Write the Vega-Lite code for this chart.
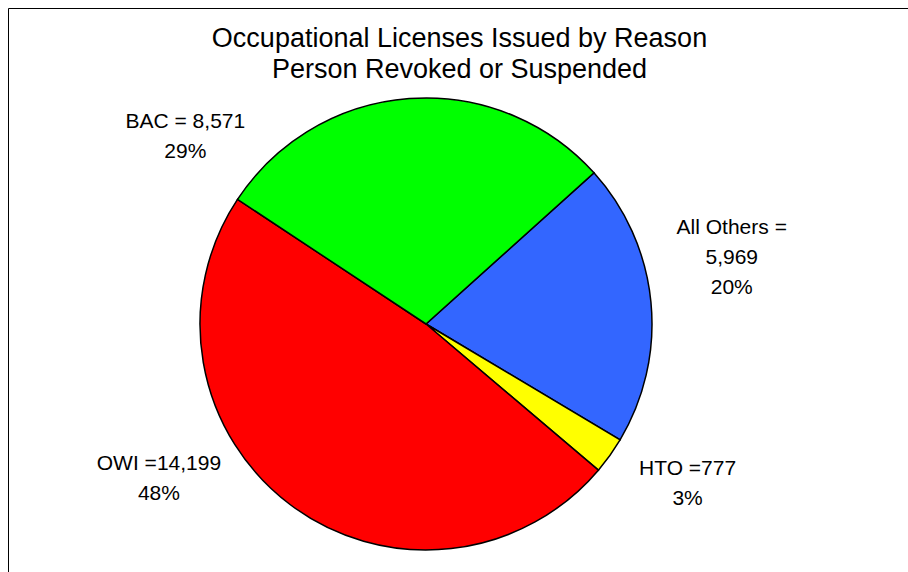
{
  "$schema": "https://vega.github.io/schema/vega-lite/v6.json",
  "width": 901,
  "height": 565,
  "autosize": {"type": "none"},
  "padding": {"left": 8, "top": 8, "right": 0, "bottom": 0},
  "background": "white",
  "view": {"stroke": "#000", "strokeWidth": 1},
  "config": {"view": {"stroke": "#000", "strokeWidth": 1}, "font": "Liberation Sans"},
  "title": {
    "text": ["Occupational Licenses Issued by Reason", "Person Revoked or Suspended"],
    "fontSize": 27,
    "fontWeight": "normal",
    "font": "Liberation Sans",
    "color": "#000",
    "lineHeight": 31,
    "anchor": "middle",
    "frame": "group",
    "offset": -107,
    "dx": 1
  },
  "data": {
    "values": [
      {"reason": "All Others", "count": 5969, "ord": 1, "label": ["All Others =", "5,969", "20%"]},
      {"reason": "HTO", "count": 777, "ord": 2, "label": ["HTO =777", "3%"]},
      {"reason": "OWI", "count": 14199, "ord": 3, "label": ["OWI =14,199", "48%"]},
      {"reason": "BAC", "count": 8571, "ord": 4, "label": ["BAC = 8,571", "29%"]}
    ]
  },
  "encoding": {
    "theta": {"field": "count", "type": "quantitative", "stack": true, "scale": {"range": [0.838, 7.1212]}},
    "order": {"field": "ord", "type": "quantitative"}
  },
  "layer": [
    {
      "mark": {"type": "arc", "x": 418, "y": 316, "radius": 226, "stroke": "#000", "strokeWidth": 1.5},
      "encoding": {
        "color": {
          "field": "reason",
          "type": "nominal",
          "scale": {"domain": ["All Others", "HTO", "OWI", "BAC"], "range": ["#3366FF", "#FFFF00", "#FF0000", "#00FF00"]},
          "legend": null
        }
      }
    },
    {
      "mark": {"type": "text", "x": 418, "y": 316, "radius": 265, "dx": 42, "dy": -70, "fontSize": 21, "lineHeight": 30, "align": "center", "baseline": "middle", "color": "#000"},
      "encoding": {
        "detail": {"field": "reason", "type": "nominal"},
        "text": {"condition": {"test": "datum.reason === 'All Others'", "field": "label", "type": "nominal"}, "value": ""}
      }
    },
    {
      "mark": {"type": "text", "x": 418, "y": 316, "radius": 265, "dx": 46, "dy": -9, "fontSize": 21, "lineHeight": 30, "align": "center", "baseline": "middle", "color": "#000"},
      "encoding": {
        "detail": {"field": "reason", "type": "nominal"},
        "text": {"condition": {"test": "datum.reason === 'HTO'", "field": "label", "type": "nominal"}, "value": ""}
      }
    },
    {
      "mark": {"type": "text", "x": 418, "y": 316, "radius": 265, "dx": -108, "dy": -72, "fontSize": 21, "lineHeight": 30, "align": "center", "baseline": "middle", "color": "#000"},
      "encoding": {
        "detail": {"field": "reason", "type": "nominal"},
        "text": {"condition": {"test": "datum.reason === 'OWI'", "field": "label", "type": "nominal"}, "value": ""}
      }
    },
    {
      "mark": {"type": "text", "x": 418, "y": 316, "radius": 265, "dx": -221, "dy": 62, "fontSize": 21, "lineHeight": 30, "align": "center", "baseline": "middle", "color": "#000"},
      "encoding": {
        "detail": {"field": "reason", "type": "nominal"},
        "text": {"condition": {"test": "datum.reason === 'BAC'", "field": "label", "type": "nominal"}, "value": ""}
      }
    }
  ]
}
